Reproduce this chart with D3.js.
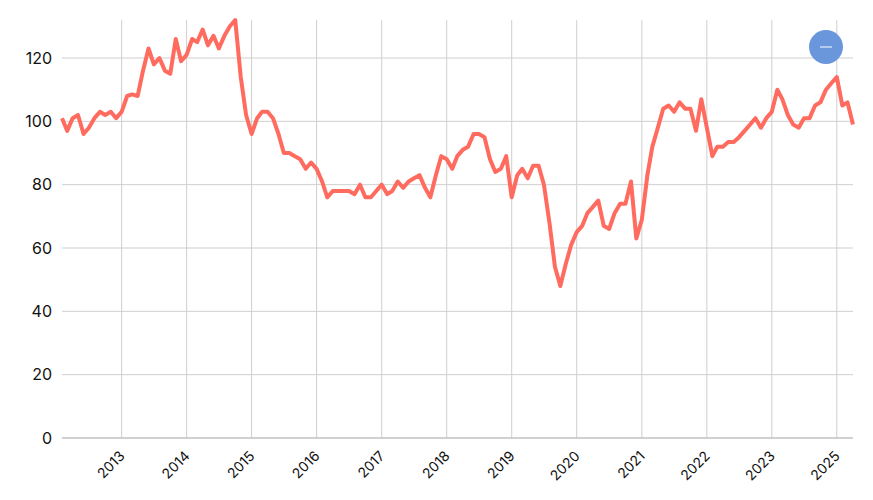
<!DOCTYPE html>
<html><head><meta charset="utf-8">
<script src="https://cdn.jsdelivr.net/npm/d3@7"></script>
<style>body{margin:0;background:#fff}svg{font-family:Inter,"Noto Sans",sans-serif}</style>
</head><body><svg id="c" width="873" height="500"></svg>
<script>
const startDate = "2012-02";
const values = [101,97,101,102,96,98,101,103,102,103,101,103,108,108.5,108,116,123,118,120,116,115,126,119,
121,126,125,129,124,127,123,127,130,132,
114,102,96,101,103,103,101,96,90,90,89,88,85,87,85,81,76,
78,78,78,78,77,80,76,76,78,80,77,78,81,79,81,82,83,79,76,83,89,88,85,89,91,92,96,96,95,88,84,85,89,
76,83,85,82,86,86,80,68,54,48,55,61,65,67,71,73,75,67,66,71,74,74,81,63,69,83,92,98,104,105,103,106,104,104,97,107,98,
89,92,92,93.5,93.5,95,97,99,101,98,101,103,110,107,102,99,98,101,101,105,106,110,112,114,105,106,99];
const tickYears = [2013,2014,2015,2016,2017,2018,2019,2020,2021,2022,2023,2024];
const tickLabels = ["2013","2014","2015","2016","2017","2018","2019","2020","2021","2022","2023","2025"];
const yTicks = [0,20,40,60,80,100,120];

const t0 = d3.timeParse("%Y-%m")(startDate);
const data = values.map((v,i)=>({d:d3.timeMonth.offset(t0,i),v}));
const svg = d3.select("#c");
const L=62,R=853,T=20,B=438;
const x = d3.scaleTime().domain(d3.extent(data,d=>d.d)).range([L,R]);
const y = d3.scaleLinear().domain([0,132]).range([B,T]);
const tickDates = tickYears.map(yr=>new Date(yr,0,1));

const g = svg.append("g");
g.selectAll(".hg").data(yTicks).join("line").attr("x1",L).attr("x2",R)
 .attr("y1",d=>y(d)).attr("y2",d=>y(d)).attr("stroke","#cfcfcf");
g.selectAll(".vg").data(tickDates).join("line").attr("x1",d=>x(d)).attr("x2",d=>x(d))
 .attr("y1",T).attr("y2",B).attr("stroke","#cfcfcf");
svg.append("line").attr("x1",L).attr("x2",R).attr("y1",B).attr("y2",B).attr("stroke","#bbb");

svg.selectAll(".yl").data(yTicks).join("text").attr("x",L-10).attr("y",d=>y(d)).attr("dy","0.35em")
 .attr("text-anchor","end").attr("font-size",16).attr("fill","#111").text(d=>d);
svg.selectAll(".xl").data(tickDates).join("text")
 .attr("transform",(d)=>`translate(${x(d)-3},${B+12}) rotate(-45)`)
 .attr("text-anchor","end").attr("dy","0.7em").attr("font-size",14).attr("fill","#111")
 .text((d,i)=>tickLabels[i]);

svg.append("path").datum(data).attr("fill","none").attr("stroke","#ff6b5e").attr("stroke-width",4)
 .attr("stroke-linejoin","round")
 .attr("d",d3.line().x(d=>x(d.d)).y(d=>y(d.v)));

svg.append("circle").attr("cx",826).attr("cy",47).attr("r",17).attr("fill","#6a96dc");
svg.append("line").attr("x1",820).attr("x2",832).attr("y1",47).attr("y2",47).attr("stroke","#fff").attr("stroke-width",1);
</script></body></html>
